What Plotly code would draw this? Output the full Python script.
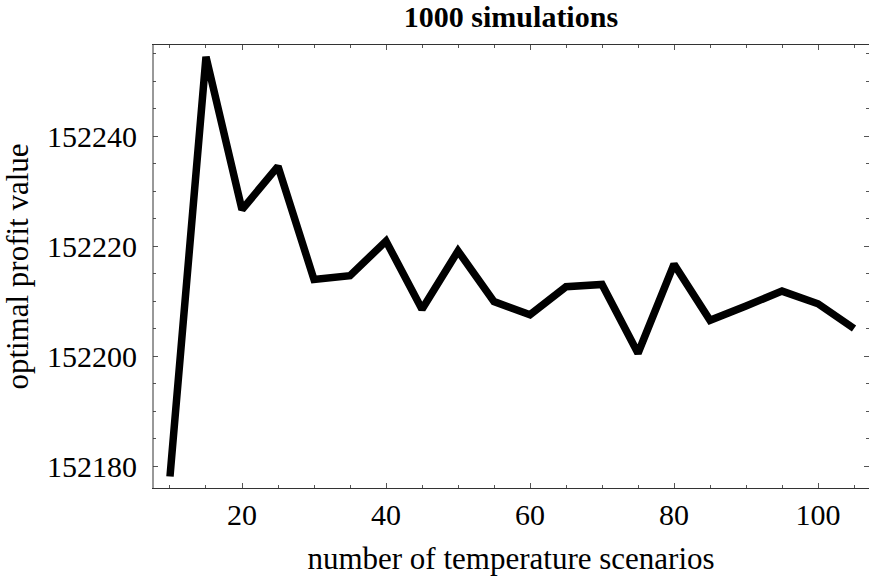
import plotly.graph_objects as go

scenarios = [10, 15, 20, 25, 30, 35, 40, 45, 50, 55, 60, 65, 70, 75, 80, 85, 90, 95, 100, 105]
profit = [152178.1, 152254.4, 152226.6, 152234.5, 152213.9, 152214.6, 152220.9, 152208.5,
          152219.1, 152209.9, 152207.5, 152212.6, 152213.0, 152200.5, 152216.7, 152206.5,
          152209.1, 152211.8, 152209.5, 152205.0]

FONT = "Liberation Serif, Times New Roman, serif"

fig = go.Figure()
fig.add_trace(go.Scatter(x=scenarios, y=profit, mode="lines",
                         line=dict(color="black", width=7.5), showlegend=False,
                         hoverinfo="skip"))

axis_common = dict(
    showgrid=False, zeroline=False, showline=True, linewidth=1,
    mirror="allticks", ticks="inside", ticklen=5, tickwidth=1, tickcolor="#555",
    tickfont=dict(family=FONT, size=30, color="black"),
)

fig.update_layout(
    width=869, height=578,
    margin=dict(l=153, r=0, t=45, b=90),
    paper_bgcolor="white", plot_bgcolor="white",
    font=dict(family=FONT, color="black"),
    title=dict(text="<b>1000 simulations</b>", x=0.588, xanchor="center",
               y=0.972, yanchor="middle", font=dict(family=FONT, size=30, color="black")),
    xaxis=dict(
        **axis_common, linecolor="#333", range=[7.64, 107.08], tick0=0, dtick=20,
        minor=dict(ticks="inside", ticklen=3, dtick=5, tick0=0, tickcolor="#555", showgrid=False),
        title=dict(text="number of temperature scenarios", font=dict(family=FONT, size=31), standoff=17),
    ),
    yaxis=dict(
        **axis_common, linecolor="rgba(0,0,0,0)", range=[152176.0, 152256.55], tick0=152180,
        dtick=20, tickformat="d", ticklabelstandoff=9,
        minor=dict(ticks="inside", ticklen=3, dtick=5, tick0=152180, tickcolor="#555", showgrid=False),
        title=dict(text="optimal profit value", font=dict(family=FONT, size=31), standoff=12),
    ),
    shapes=[dict(type="line", xref="paper", yref="paper", x0=0, x1=0, y0=0, y1=1,
                 line=dict(color="#333", width=1))],
)

fig.write_html("out.html")
